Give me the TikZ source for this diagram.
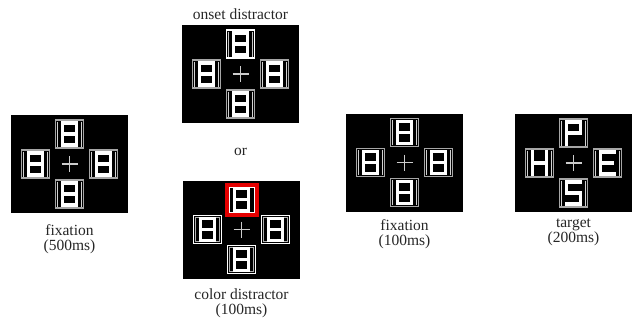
\documentclass[tikz,border=0pt]{standalone}
\usepackage{fontspec}
\setmainfont{Liberation Serif}
\usetikzlibrary{calc}

\tikzset{
  x=1pt, y=-1pt,
  panel/.style={fill=black, draw=none, minimum width=117pt, minimum height=98pt, inner sep=0pt},
  lbl/.style={font=\fontsize{15.5}{15}\selectfont, align=center, inner sep=0pt, text=black!85},
  glyph/.style={draw=white, line width=3.2pt, line join=miter, line cap=rect},
  fixcross/.style={draw=white!80!black, line width=1.6pt},
  % glyphs shown inside the placeholders
  digit8/.pic={\path[glyph] (-7,-11) rectangle (7,11) (-7,0) -- (7,0);},
  letterP/.pic={\path[glyph] (-7,11) -- (-7,-11) -- (7,-11) -- (7,0) -- (-7,0);},
  letterH/.pic={\path[glyph] (-7,-11) -- (-7,11) (7,-11) -- (7,11) (-7,0) -- (7,0);},
  letterE/.pic={\path[glyph] (7,-11) -- (-7,-11) -- (-7,11) -- (7,11) (-7,0) -- (5,0);},
  letterS/.pic={\path[glyph] (7,-11) -- (-7,-11) -- (-7,0) -- (7,0) -- (7,11) -- (-7,11);},
  % placeholder frames
  grayframe/.pic={
    \draw[gray!70, line width=1.4pt] (-14,-14) rectangle (14,14);
    \draw[gray!35, line width=0.9pt] (-11.8,-12.5) -- (-11.8,12.5) (11.8,-12.5) -- (11.8,12.5);},
  whiteframe/.pic={
    \draw[white, line width=1.6pt] (-14,-14) rectangle (14,14);
    \draw[white!70!black, line width=1pt] (-11.8,-11.8) rectangle (11.8,11.8);},
  onsetframe/.pic={
    \draw[white, line width=1.6pt] (-14,-14) rectangle (14,14);
    \draw[gray!45, line width=0.9pt] (-11.8,-12.5) -- (-11.8,12.5) (11.8,-12.5) -- (11.8,12.5);},
  redframe/.pic={
    \fill[red!90!black] (-17,-17) rectangle (17,17);
    \fill[black] (-12.5,-12.5) rectangle (12.5,12.5);
    \draw[white, line width=1pt] (-12.5,-12.5) rectangle (12.5,12.5);},
  plus/.pic={\path[fixcross] (-8,0) -- (8,0) (0,-8) -- (0,8);}
}

% four placeholders around a fixation cross: frames then glyphs (top, left, right, bottom)
\newcommand\crossdisplay[9]{%
  \begin{scope}[shift={(#1)}]
    \pic at (0,-30) {#2}; \pic at (-34,0) {#3}; \pic at (34,0) {#4}; \pic at (0,30) {#5};
    \pic at (0,-30) {#6}; \pic at (-34,0) {#7}; \pic at (34,0) {#8}; \pic at (0,30) {#9};
    \pic at (0,0) {plus};
  \end{scope}}

\begin{document}
\begin{tikzpicture}
  \useasboundingbox (0,0) rectangle (644,327);
  \fill[white] (0,0) rectangle (644,327);

  % display panels
  \node[panel] (fix1)   at (69.5,164)  {};
  \node[panel] (onset)  at (240.5,74)  {};
  \node[panel] (color)  at (241.5,229.5) {};
  \node[panel] (fix2)   at (404.5,162.5) {};
  \node[panel] (target) at (573.5,163) {};

  \crossdisplay{fix1}{grayframe}{grayframe}{grayframe}{grayframe}{digit8}{digit8}{digit8}{digit8}
  \crossdisplay{onset}{onsetframe}{grayframe}{grayframe}{grayframe}{digit8}{digit8}{digit8}{digit8}
  \crossdisplay{color}{redframe}{whiteframe}{whiteframe}{whiteframe}{digit8}{digit8}{digit8}{digit8}
  \crossdisplay{fix2}{grayframe}{grayframe}{grayframe}{grayframe}{digit8}{digit8}{digit8}{digit8}
  \crossdisplay{target}{grayframe}{grayframe}{grayframe}{grayframe}{letterP}{letterH}{letterE}{letterS}

  % captions
  \node[lbl] (lfix1)   at (69.5,239.5)  {fixation\\(500ms)};
  \node[lbl] (lonset)  at (240.5,14)    {onset distractor};
  \node[lbl] (lor)     at (240.5,152)   {or};
  \node[lbl] (lcolor)  at (241.5,303)   {color distractor\\(100ms)};
  \node[lbl] (lfix2)   at (404.5,234.5) {fixation\\(100ms)};
  \node[lbl] (ltarget) at (573.5,232.5) {target\\(200ms)};
\end{tikzpicture}
\end{document}
